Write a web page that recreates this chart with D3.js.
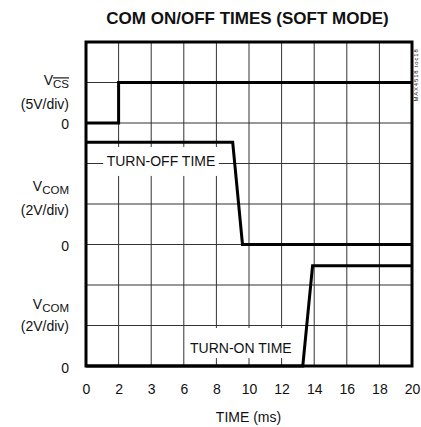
<!DOCTYPE html>
<html>
<head>
<meta charset="utf-8">
<script src="https://cdn.jsdelivr.net/npm/d3@7"></script>
<style>
  body { margin: 0; background: #fff; }
  text { font-family: "Liberation Sans", Arial, sans-serif; fill: #111; }
</style>
</head>
<body>
<div id="chart"></div>
<script>
// scope capture, time axis in ms, traces in volts
var timeTicks = [0, 2, 4, 6, 8, 10, 12, 14, 16, 18, 20];
var tickLabels = ["0", "2", "3", "6", "8", "10", "12", "14", "16", "18", "20"];

// V_CS (5V/div), zero at division 6
var csTime = [0, 2, 2, 20];
var csVolts = [0, 0, 5, 5];

// V_COM turn-off (2V/div), zero at division 3
var offTime = [0, 9.0, 9.6, 20];
var offVolts = [5.05, 5.05, 0, 0];

// V_COM turn-on (2V/div), zero at division 0
var onTime = [0, 13.3, 13.9, 20];
var onVolts = [0, 0, 4.95, 4.95];

var svgWidth = 421;
var svgHeight = 427;
var margin = { top: 42, right: 9, bottom: 61, left: 86 };
var width = svgWidth - margin.left - margin.right;
var height = svgHeight - margin.top - margin.bottom;

var svg = d3.select("#chart")
    .append("svg")
    .attr("width", svgWidth)
    .attr("height", svgHeight);

var x = d3.scaleLinear().domain([0, 20]).range([margin.left, margin.left + width]);
// vertical scale in screen divisions (8 of them)
var y = d3.scaleLinear().domain([0, 8]).range([margin.top + height, margin.top]);

// title
svg.append("text")
    .attr("x", 247.5)
    .attr("y", 24)
    .attr("text-anchor", "middle")
    .style("font-size", "17px")
    .style("font-weight", "bold")
    .text("COM ON/OFF TIMES (SOFT MODE)");

// grid
svg.append("g").selectAll("line")
    .data(timeTicks)
    .enter().append("line")
    .attr("x1", d => x(d)).attr("x2", d => x(d))
    .attr("y1", y(8)).attr("y2", y(0))
    .attr("stroke", "#333").attr("stroke-width", 1);

svg.append("g").selectAll("line")
    .data(d3.range(0, 9))
    .enter().append("line")
    .attr("x1", x(0)).attr("x2", x(20))
    .attr("y1", d => y(d)).attr("y2", d => y(d))
    .attr("stroke", "#333").attr("stroke-width", 1);

// annotation labels with white boxes over the grid
var notes = [
    { text: "TURN-OFF TIME", t: 4.6, div: 4.94, padTop: 19, padBottom: 10 },
    { text: "TURN-ON TIME", t: 9.5, div: 0.32, padTop: 25, padBottom: 5 }
];
notes.forEach(function (n) {
    var g = svg.append("g");
    var rect = g.append("rect").attr("fill", "#fff");
    var t = g.append("text")
        .attr("x", x(n.t))
        .attr("y", y(n.div))
        .attr("text-anchor", "middle")
        .style("font-size", "14px")
        .text(n.text);
    var bb = t.node().getBBox();
    rect.attr("x", bb.x - 3.5)
        .attr("width", bb.width + 7)
        .attr("y", y(n.div) - n.padTop)
        .attr("height", n.padTop + n.padBottom);
});

// traces
var line = d3.line();
function trace(times, volts, zeroDiv, voltsPerDiv) {
    var pts = times.map((t, i) => [x(t), y(zeroDiv + volts[i] / voltsPerDiv)]);
    svg.append("path")
        .attr("d", line(pts))
        .attr("fill", "none")
        .attr("stroke", "#000")
        .attr("stroke-width", 3)
        .attr("stroke-linejoin", "miter");
}
trace(csTime, csVolts, 6, 5);
trace(offTime, offVolts, 3, 2);
trace(onTime, onVolts, 0, 2);

// frame
svg.append("rect")
    .attr("x", x(0)).attr("y", y(8))
    .attr("width", x(20) - x(0)).attr("height", y(0) - y(8))
    .attr("fill", "none")
    .attr("stroke", "#000")
    .attr("stroke-width", 3);

// x axis labels
var xAxis = d3.axisBottom(x)
    .tickValues(timeTicks)
    .tickFormat((d, i) => tickLabels[i])
    .tickSize(0)
    .tickPadding(18);
var ax = svg.append("g")
    .attr("transform", "translate(0," + y(0) + ")")
    .call(xAxis);
ax.select(".domain").remove();
ax.selectAll("text")
    .style("font-size", "14px")
    .style("font-family", "'Liberation Sans', Arial, sans-serif")
    .attr("fill", "#111");

svg.append("text")
    .attr("x", 248.5)
    .attr("y", 422)
    .attr("text-anchor", "middle")
    .style("font-size", "14px")
    .text("TIME (ms)");

// channel labels on the left
var labelX = 69;
function channelLabel(sub, overline, scaleText, nameDiv, scaleDiv, zeroDiv) {
    var name = svg.append("text")
        .attr("x", labelX)
        .attr("y", y(nameDiv))
        .attr("text-anchor", "end")
        .style("font-size", "14px");
    name.append("tspan").text("V");
    var s = name.append("tspan")
        .attr("dy", 3)
        .style("font-size", "11.5px")
        .text(sub);
    if (overline) s.style("text-decoration", "overline");
    svg.append("text")
        .attr("x", labelX)
        .attr("y", y(scaleDiv))
        .attr("text-anchor", "end")
        .style("font-size", "14px")
        .text(scaleText);
    svg.append("text")
        .attr("x", labelX)
        .attr("y", y(zeroDiv))
        .attr("text-anchor", "end")
        .style("font-size", "14px")
        .text("0");
}
channelLabel("CS", true, "(5V/div)", 6.93, 6.35, 5.85);
channelLabel("COM", false, "(2V/div)", 4.32, 3.73, 2.84);
channelLabel("COM", false, "(2V/div)", 1.4, 0.86, -0.17);

// figure id on the right edge
svg.append("text")
    .attr("transform", "translate(418,75) rotate(-90)")
    .attr("text-anchor", "middle")
    .style("font-size", "6px")
    .style("letter-spacing", "0.8px")
    .attr("fill", "#333")
    .text("MAX4518 toc18");
</script>
</body>
</html>
